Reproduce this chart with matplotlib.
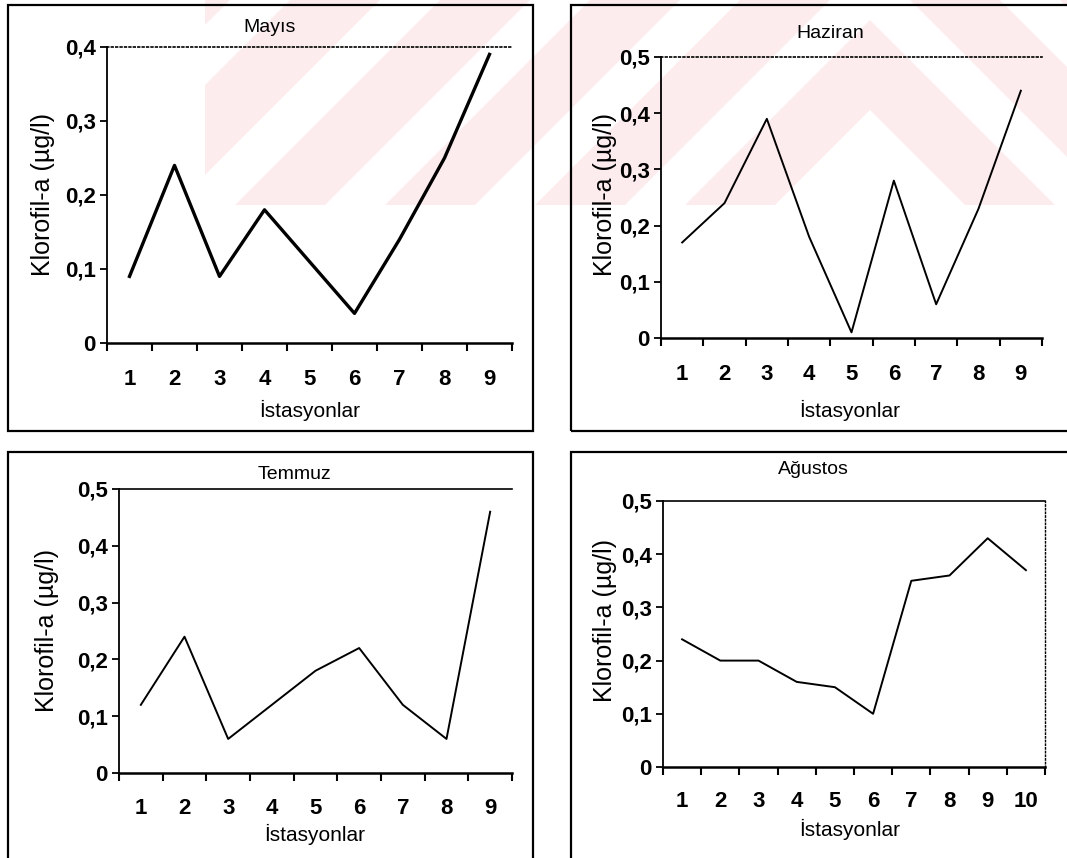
import matplotlib
matplotlib.use("Agg")
import matplotlib.pyplot as plt
from matplotlib.patches import Polygon, Rectangle
from matplotlib.ticker import FuncFormatter

# data
stations9 = [1, 2, 3, 4, 5, 6, 7, 8, 9]
stations10 = [1, 2, 3, 4, 5, 6, 7, 8, 9, 10]
mayis = [0.09, 0.24, 0.09, 0.18, 0.11, 0.04, 0.14, 0.25, 0.39]
haziran = [0.17, 0.24, 0.39, 0.18, 0.01, 0.28, 0.06, 0.23, 0.44]
temmuz = [0.12, 0.24, 0.06, 0.12, 0.18, 0.22, 0.12, 0.06, 0.46]
agustos = [0.24, 0.20, 0.20, 0.16, 0.15, 0.10, 0.35, 0.36, 0.43, 0.37]

titles = ["Mayıs", "Haziran", "Temmuz", "Ağustos"]
ylabel = "Klorofil-a (µg/l)"
xlabel = "İstasyonlar"

W, H = 1067, 858
plt.rcParams['font.family'] = ['Liberation Sans', 'DejaVu Sans']

fig = plt.figure(figsize=(W / 100, H / 100), dpi=100)


def fx(x):
    return x / W


def fy(y):
    return 1 - y / H


def pts(lst):
    return [(fx(x), fy(y)) for x, y in lst]


# faint watermark in the top strip
clip = Rectangle((fx(205), fy(205)), fx(1067 - 205), 205 / H,
                 transform=fig.transFigure, facecolor='none', edgecolor='none')
fig.add_artist(clip)
cx, k, yb = 870, 1.0, 205
for n in range(8):
    a1 = 20 - 150 * n
    a2 = 110 - 150 * n
    poly = [(cx - k * (yb - a1), yb), (cx, a1), (cx + k * (yb - a1), yb),
            (cx + k * (yb - a2), yb), (cx, a2), (cx - k * (yb - a2), yb)]
    p = Polygon(pts(poly), closed=True, transform=fig.transFigure,
                facecolor='#fdecee', edgecolor='none', zorder=0)
    fig.add_artist(p)
    p.set_clip_path(clip)

# chart-area frames
frames = [(8, 5, 533, 431), (571, 5, 1075, 431), (8, 452, 533, 866), (571, 452, 1075, 866)]
for x0, y0, x1, y1 in frames:
    fig.add_artist(Rectangle((fx(x0), fy(y1)), fx(x1 - x0), (y1 - y0) / H,
                             transform=fig.transFigure, facecolor='none',
                             edgecolor='black', linewidth=1.6, zorder=1))

# plot areas in pixels: left, top, right, bottom
boxes = [(107, 47, 512, 343), (661, 57, 1042, 338), (119, 489, 512, 773), (663, 501, 1045, 767)]
series = [(stations9, mayis, 0.4), (stations9, haziran, 0.5),
          (stations9, temmuz, 0.5), (stations10, agustos, 0.5)]
lws = [2.4, 1.4, 1.4, 1.4]
title_pos = [(270, 27), (830, 33), (295, 475), (813, 470)]
ylab_pos = [(43, 195), (605, 195), (47, 630), (605, 620)]
xlab_pos = [(310, 410), (850, 410), (315, 834), (850, 829)]
xpads = [19, 18.5, 18, 17]
top_style = [':', ':', '-', '-']

comma = FuncFormatter(lambda v, p: '0' if v == 0 else ('%.1f' % v).replace('.', ','))

for i in range(4):
    l, t, r, b = boxes[i]
    ax = fig.add_axes([fx(l), fy(b), fx(r - l), (b - t) / H])
    ax.set_facecolor('none')
    xs, ys, ymax = series[i]
    ax.plot(xs, ys, color='black', linewidth=lws[i])
    ax.set_xlim(0.5, len(xs) + 0.5)
    ax.set_ylim(0, ymax)
    ax.set_yticks([j / 10 for j in range(int(round(ymax * 10)) + 1)])
    ax.yaxis.set_major_formatter(comma)
    ax.set_xticks(xs)
    ax.set_xticks([x - 0.5 for x in xs] + [len(xs) + 0.5], minor=True)
    ax.tick_params(axis='x', which='major', length=0, pad=xpads[i], labelsize=16)
    ax.tick_params(axis='x', which='minor', length=6, width=1.5, direction='out')
    ax.tick_params(axis='y', length=5, width=1.3, direction='out', pad=3, labelsize=16)
    for lab in ax.get_xticklabels() + ax.get_yticklabels():
        lab.set_fontweight('bold')
    ax.spines['left'].set_linewidth(1.3)
    ax.spines['bottom'].set_linewidth(1.8)
    ax.spines['top'].set_linestyle(top_style[i])
    ax.spines['top'].set_linewidth(1.2)
    if i == 3:
        ax.spines['right'].set_linestyle(':')
        ax.spines['right'].set_linewidth(1.0)
    else:
        ax.spines['right'].set_visible(False)

    tx, ty = title_pos[i]
    fig.text(fx(tx), fy(ty), titles[i], ha='center', va='center', fontsize=14)
    lx, ly = ylab_pos[i]
    fig.text(fx(lx), fy(ly), ylabel, ha='center', va='center', rotation=90, fontsize=18)
    bx, by = xlab_pos[i]
    fig.text(fx(bx), fy(by), xlabel, ha='center', va='center', fontsize=15)

fig.savefig('out.png', dpi=100)
